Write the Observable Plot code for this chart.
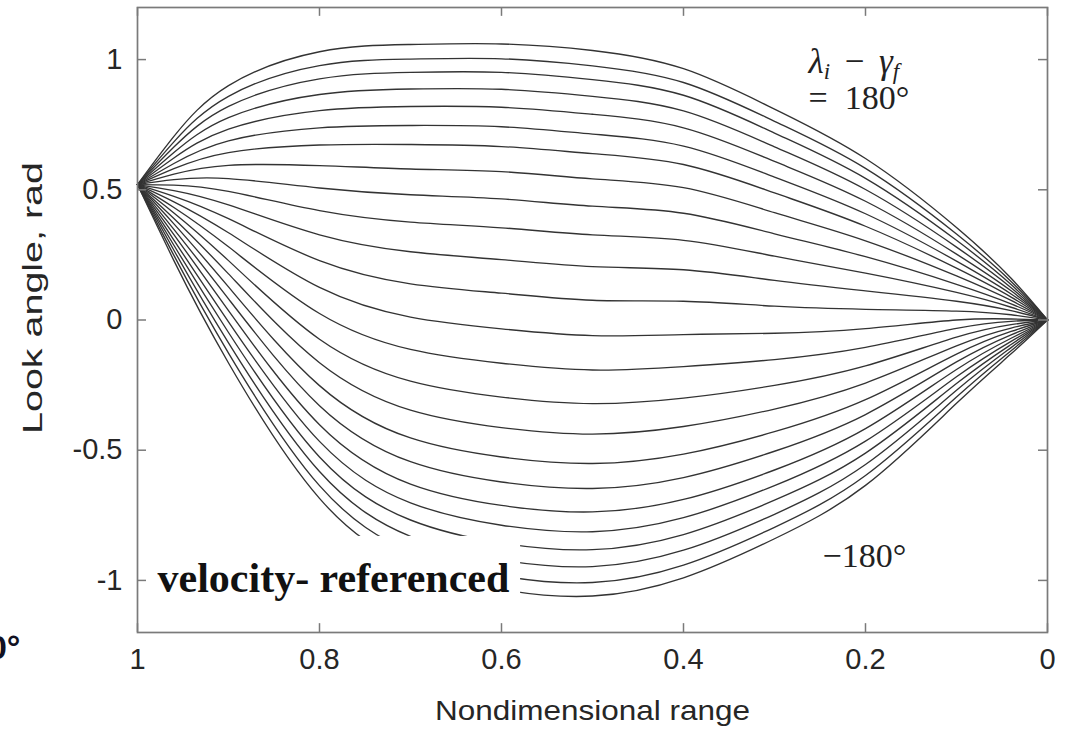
<!DOCTYPE html>
<html><head><meta charset="utf-8">
<script src="https://cdn.jsdelivr.net/npm/d3@7"></script>
<script src="https://cdn.jsdelivr.net/npm/@observablehq/plot@0.6"></script>
<style>
body{margin:0;background:#fff;}
#chart{width:1076px;height:729px;overflow:hidden;}
</style>
</head><body><div id="chart"></div>
<script>
// Nondimensional range stations (x)
const range = [1, 0.96, 0.9, 0.8, 0.7, 0.6, 0.5, 0.4, 0.3, 0.2, 0.1, 0.04, 0];

// Look angle (rad) of each curve, lambda_i - gamma_f = 180deg (top) ... -180deg (bottom)
const look01 = [0.52, 0.705, 0.900, 1.030, 1.058, 1.060, 1.035, 0.965, 0.810, 0.620, 0.355, 0.160, 0];
const look02 = [0.52, 0.684, 0.859, 0.977, 1.002, 1.003, 0.976, 0.912, 0.763, 0.582, 0.330, 0.148, 0];
const look03 = [0.52, 0.664, 0.820, 0.926, 0.951, 0.951, 0.923, 0.863, 0.718, 0.544, 0.306, 0.136, 0];
const look04 = [0.52, 0.643, 0.777, 0.866, 0.887, 0.886, 0.859, 0.803, 0.665, 0.501, 0.280, 0.124, 0];
const look05 = [0.52, 0.622, 0.733, 0.804, 0.820, 0.817, 0.790, 0.738, 0.609, 0.456, 0.253, 0.112, 0];
const look06 = [0.52, 0.601, 0.688, 0.738, 0.747, 0.742, 0.714, 0.668, 0.549, 0.408, 0.226, 0.100, 0];
const look07 = [0.52, 0.581, 0.643, 0.672, 0.674, 0.666, 0.639, 0.597, 0.488, 0.360, 0.199, 0.088, 0];
const look08 = [0.52, 0.560, 0.594, 0.593, 0.580, 0.570, 0.542, 0.508, 0.412, 0.304, 0.169, 0.075, 0];
const look09 = [0.52, 0.539, 0.543, 0.507, 0.481, 0.465, 0.437, 0.410, 0.331, 0.243, 0.137, 0.062, 0];
const look10 = [0.52, 0.518, 0.494, 0.420, 0.376, 0.354, 0.327, 0.306, 0.245, 0.180, 0.106, 0.049, 0];
const look11 = [0.52, 0.497, 0.442, 0.327, 0.262, 0.232, 0.205, 0.193, 0.152, 0.112, 0.072, 0.036, 0];
const look12 = [0.52, 0.475, 0.389, 0.228, 0.139, 0.103, 0.076, 0.072, 0.053, 0.041, 0.034, 0.020, 0];
const look13 = [0.52, 0.454, 0.335, 0.125, 0.011, -0.034, -0.060, -0.056, -0.051, -0.033, 0.000, 0.004, 0];
const look14 = [0.52, 0.432, 0.281, 0.025, -0.113, -0.166, -0.192, -0.179, -0.152, -0.105, -0.032, -0.005, 0];
const look15 = [0.52, 0.411, 0.228, -0.074, -0.235, -0.296, -0.321, -0.300, -0.251, -0.176, -0.066, -0.018, 0];
const look16 = [0.52, 0.390, 0.177, -0.164, -0.346, -0.413, -0.438, -0.409, -0.342, -0.242, -0.099, -0.031, 0];
const look17 = [0.52, 0.369, 0.127, -0.252, -0.453, -0.526, -0.551, -0.515, -0.429, -0.306, -0.131, -0.044, 0];
const look18 = [0.52, 0.348, 0.081, -0.329, -0.544, -0.622, -0.647, -0.605, -0.504, -0.363, -0.161, -0.057, 0];
const look19 = [0.52, 0.328, 0.036, -0.402, -0.630, -0.712, -0.737, -0.689, -0.576, -0.417, -0.190, -0.070, 0];
const look20 = [0.52, 0.307, -0.007, -0.466, -0.702, -0.788, -0.813, -0.759, -0.636, -0.465, -0.218, -0.082, 0];
const look21 = [0.52, 0.287, -0.048, -0.526, -0.768, -0.857, -0.882, -0.824, -0.692, -0.511, -0.244, -0.094, 0];
const look22 = [0.52, 0.268, -0.088, -0.582, -0.831, -0.922, -0.947, -0.884, -0.746, -0.555, -0.270, -0.106, 0];
const look23 = [0.52, 0.248, -0.127, -0.636, -0.889, -0.983, -1.008, -0.941, -0.796, -0.597, -0.296, -0.118, 0];
const look24 = [0.52, 0.228, -0.165, -0.685, -0.940, -1.035, -1.060, -0.990, -0.840, -0.635, -0.320, -0.130, 0];

const curves = [look01, look02, look03, look04, look05, look06, look07, look08, look09, look10, look11, look12,
                look13, look14, look15, look16, look17, look18, look19, look20, look21, look22, look23, look24];

const xTicks = [1, 0.8, 0.6, 0.4, 0.2, 0];
const yTicks = [-1, -0.5, 0, 0.5, 1];
const xLabel = "Nondimensional range";
const yLabel = "Look angle, rad";
const topNote = "λi − γf";

const rows = [];
curves.forEach((arr, k) => arr.forEach((v, j) => rows.push({curve: k, r: range[j], v})));

const serif = "Liberation Serif, Times New Roman, serif";
const sans = "Liberation Sans, Arial, Helvetica, sans-serif";
const frameColor = "#7a7a7a";
const ink = "#222";

function note(str, x, y, o = {}) {
  return Plot.text([str], {x: () => x, y: () => y, text: d => d, textAnchor: "start", lineAnchor: "bottom",
    fontFamily: serif, fontSize: 34, fill: ink, ...o});
}

const chart = Plot.plot({
  width: 1076,
  height: 729,
  marginLeft: 137,
  marginRight: 29,
  marginTop: 7,
  marginBottom: 97,
  x: {domain: [1, 0]},
  y: {domain: [-1.2, 1.2]},
  style: {fontFamily: sans, background: "white", color: "#262626", overflow: "visible"},
  marks: [
    Plot.line(rows, {x: "r", y: "v", z: "curve", stroke: "#333", strokeWidth: 1.35, curve: "natural"}),
    // inward ticks on all four sides
    Plot.ruleX(xTicks, {x: d => d, y1: () => -1.2, y2: () => -1.2 + 0.034, stroke: frameColor, strokeWidth: 1.5}),
    Plot.ruleX(xTicks, {x: d => d, y1: () => 1.2, y2: () => 1.2 - 0.034, stroke: frameColor, strokeWidth: 1.5}),
    Plot.ruleY(yTicks, {y: d => d, x1: () => 1, x2: () => 1 - 0.0099, stroke: frameColor, strokeWidth: 1.5}),
    Plot.ruleY(yTicks, {y: d => d, x1: () => 0, x2: () => 0.0099, stroke: frameColor, strokeWidth: 1.5}),
    // white label box
    Plot.rect([{x1: 0.986, x2: 0.579, y1: -0.831, y2: -1.092}], {x1: "x1", x2: "x2", y1: "y1", y2: "y2", fill: "white"}),
    Plot.frame({stroke: frameColor, strokeWidth: 1.7}),
    Plot.axisX(xTicks, {anchor: "bottom", tickSize: 0, tickPadding: 16, fontSize: 29, tickFormat: d => String(d), label: null}),
    Plot.axisY(yTicks, {anchor: "left", tickSize: 0, tickPadding: 15, fontSize: 29, tickFormat: d => String(d), label: null}),
    Plot.text([xLabel], {frameAnchor: "bottom", textAnchor: "middle", dy: 87, fontSize: 28, text: d => d}),
    Plot.text([yLabel], {frameAnchor: "left", textAnchor: "middle", lineAnchor: "middle", dx: -104, dy: -22, rotate: -90, fontSize: 28, text: d => d}),
    // annotations
    note(topNote, 0.2626, 0.950, {fontSize: 35}),
    note("=\u2002180°", 0.2626, 0.810),
    note("−180°", 0.2473, -0.950),
    note("velocity- referenced", 0.978, -1.046, {fontWeight: "bold", fontSize: 42, fill: "#111"}),
    Plot.text(["0°"], {x: () => 1.1286, y: () => -1.303, text: d => d, textAnchor: "end", lineAnchor: "bottom",
      fontFamily: sans, fontWeight: "bold", fontSize: 34, fill: "#111122"})
  ]
});

d3.select(chart).selectAll("text").each(function() {
  const t = this.textContent;
  const s = d3.select(this);
  // match the stretched axis-title lengths of the reference
  if (t === xLabel) s.attr("textLength", 315).attr("lengthAdjust", "spacingAndGlyphs");
  if (t === yLabel) s.attr("textLength", 272).attr("lengthAdjust", "spacingAndGlyphs");
  // typeset lambda_i - gamma_f with real subscripts
  if (t === topNote) {
    const dyAttr = s.attr("dy");
    s.text(null);
    const parts = [
      {txt: "λ", italic: true},
      {txt: "i", italic: true, size: 23, shift: 6},
      {txt: "\u2004\u200A−\u2004\u200A", shift: -6},
      {txt: "γ", italic: true},
      {txt: "f", italic: true, size: 23, shift: 6}
    ];
    parts.forEach((p, k) => {
      const ts = s.append("tspan").text(p.txt);
      if (p.italic) ts.attr("font-style", "italic");
      if (p.size) ts.attr("font-size", p.size);
      if (p.shift) ts.attr("dy", p.shift);
      else if (k === 0 && dyAttr) ts.attr("dy", dyAttr);
    });
  }
});
document.getElementById("chart").appendChild(chart);
</script>
</body></html>
